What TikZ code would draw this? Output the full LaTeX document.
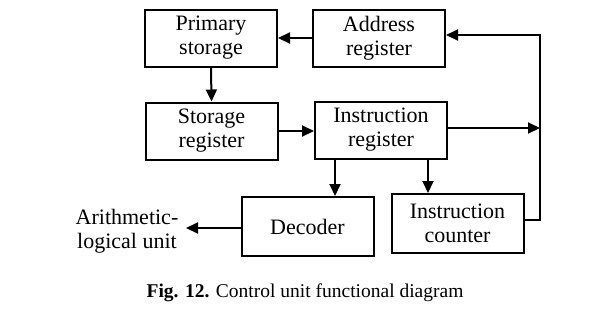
\documentclass[tikz,border=0pt]{standalone}
\usepackage{fontspec}
\setmainfont{Liberation Serif}
\usetikzlibrary{arrows.meta}
\begin{document}
\begin{tikzpicture}[x=1pt,y=1pt,
  box/.style={draw,line width=2pt,minimum width=132pt,minimum height=57pt,align=center,inner sep=0pt,font=\fontsize{22}{24}\selectfont},
  conn/.style={line width=2pt},
  arr/.style={conn,-{Triangle[length=12pt,width=11pt]}}]
\useasboundingbox (0,0) rectangle (597,-309);
\node[box] (prim) at (211,-38) {Primary\\storage};
\node[box] (addr) at (379,-38) {Address\\register};
\node[box] (stor) at (211.5,-131) {Storage\\register};
\node[box] (instr) at (381,-130) {Instruction\\register};
\node[box,minimum height=59pt] (dec) at (307.5,-226.5) {Decoder};
\node[box,minimum height=59pt] (cnt) at (457.5,-223.5) {Instruction\\counter};
\node[align=center,inner sep=0pt,font=\fontsize{22}{24}\selectfont] (alu) at (127,-231) {Arithmetic-\\logical unit};
\node[inner sep=0pt,font=\fontsize{19.5}{22}\selectfont] (cap) at (305,-293) {\textbf{Fig. 12.} Control unit functional diagram};
\coordinate (rt) at (540,-35);
\coordinate (rm) at (540,-128);
\coordinate (rb) at (540,-220);
\coordinate (dx) at (335,0);
\coordinate (cx) at (428,0);
\coordinate (ae) at (186,-228);
\draw[arr] (addr.west) -- (prim.east);
\draw[arr] (prim.south) -- (stor.north);
\draw[arr] (stor.east) -- (instr.west |- stor.east);
\draw[arr] (instr.south -| dx) -- (dec.north -| dx);
\draw[arr] (instr.south -| cx) -- (cnt.north -| cx);
\draw[arr] (dec.west |- ae) -- (ae);
\draw[arr] (cnt.east |- rb) -- (rb) -- (rt) -- (addr.east |- rt);
\draw[arr] (instr.east |- rm) -- (rm);
\end{tikzpicture}
\end{document}
